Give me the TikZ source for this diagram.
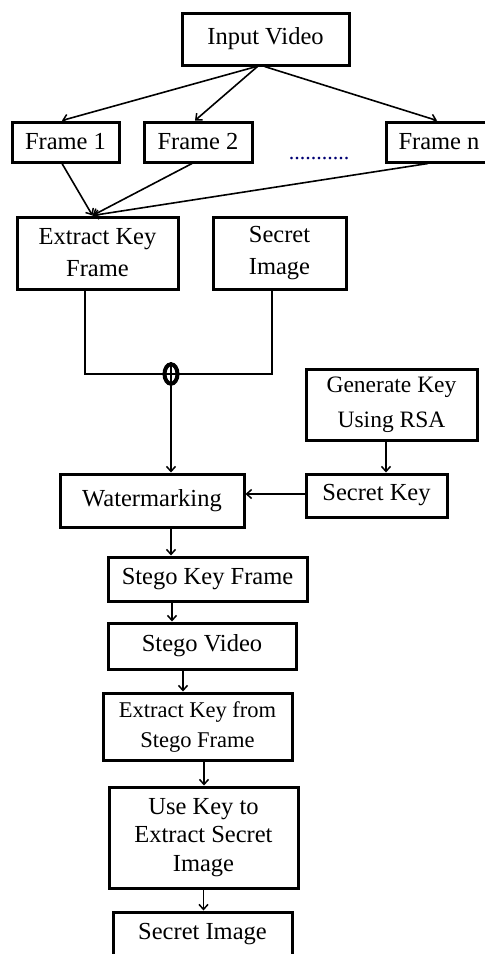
\documentclass[tikz,border=0pt]{standalone}
\usepackage{fontspec}
\setmainfont{Liberation Serif}
\usetikzlibrary{arrows.meta,shapes.geometric}
\tikzset{
  box/.style={draw, line width=3pt, inner sep=0pt, align=center,
    font=\fontsize{24.5}{32}\selectfont},
  link/.style={line width=1.6pt},
  arr/.style={link, -{Straight Barb[length=5pt,width=9pt,line width=1.5pt]}},
}
\begin{document}
\begin{tikzpicture}[x=1pt,y=-1pt]
\useasboundingbox (0,0) rectangle (485,954);
\clip (0,0) rectangle (485,954);

% video and its frames
\node[box, minimum width=167, minimum height=52] (inv) at (265.5,39) {Input Video};
\node[box, minimum width=107, minimum height=40] (f1) at (65.5,142) {Frame 1};
\node[box, minimum width=108, minimum height=40] (f2) at (198,142) {Frame 2};
\node[box, minimum width=106, minimum height=40] (fn) at (439,142) {Frame n};
\node[anchor=base, inner sep=0pt, text=blue!45!black, font=\fontsize{22}{29}\selectfont] (dots) at (319,159) {...........};

% key frame and secret image
\node[box, minimum width=161, minimum height=72] (ekf) at (97.5,253) {Extract Key\\Frame};
\node[box, minimum width=133, minimum height=72] (si) at (279.5,253) {Secret\\Image};

% combining operator
\node[draw, ellipse, line width=4pt, minimum width=13pt, minimum height=19.5pt, inner sep=0pt] (op) at (171,374) {};
\draw[line width=2.2pt] (op.north) -- (op.south) (op.west) -- (op.east);

% key generation
\node[box, minimum width=171, minimum height=71, font=\fontsize{23.5}{35}\selectfont] (gk) at (391.5,404.5) {Generate Key\\Using RSA};
\node[box, minimum width=141, minimum height=43] (sk) at (376.5,495.5) {Secret Key};

% embedding and extraction chain
\node[box, minimum width=184, minimum height=53] (wm) at (152,500.5) {Watermarking};
\node[box, minimum width=199, minimum height=44] (skf) at (207.5,579) {Stego Key Frame};
\node[box, minimum width=188, minimum height=46] (sv) at (202,646) {Stego Video};
\node[box, minimum width=189, minimum height=67, font=\fontsize{22.5}{30}\selectfont] (ekg) at (197.5,726.5) {Extract Key from\\Stego Frame};
\node[box, minimum width=189, minimum height=101, font=\fontsize{24.5}{28.5}\selectfont] (uk) at (203.5,837.5) {Use Key to\\Extract Secret\\Image};
\node[box, minimum width=179, minimum height=44] (sim) at (202.5,934) {Secret Image};

% input video to frames
\draw[arr] ([xshift=-9pt]inv.south) -- ([xshift=-3.5pt]f1.north);
\draw[arr] ([xshift=-8pt]inv.south) -- ([xshift=-3pt]f2.north);
\draw[arr] ([xshift=-1pt]inv.south) -- ([xshift=-2pt]fn.north);

% frames to key frame extraction
\draw[arr] ([xshift=-3.5pt]f1.south) -- ([xshift=-5pt]ekf.north);
\draw[arr] ([xshift=-6pt]f2.south) -- ([xshift=-5pt]ekf.north);
\draw[arr] ([xshift=-11pt]fn.south) -- ([xshift=-5pt]ekf.north);

% key frame and secret image into the operator
\draw[link] ([xshift=-12.5pt]ekf.south) |- (op.west);
\draw[link] ([xshift=-7.5pt]si.south) |- (op.east);
\draw[arr] (op.south) -- (op.south |- wm.north);

% secret key path
\draw[arr] ([xshift=-5.5pt]gk.south) -- ([xshift=-5.5pt]gk.south |- sk.north);
\draw[arr] ([yshift=1.5pt]sk.west) -- ([yshift=1.5pt]sk.west -| wm.east);

% chain downwards
\draw[arr] (op |- wm.south) -- (op |- skf.north);
\draw[arr] ([xshift=-35.5pt]skf.south) -- ([xshift=-35.5pt]skf.south |- sv.north);
\draw[arr] ([xshift=-19pt]sv.south) -- ([xshift=-19pt]sv.south |- ekg.north);
\draw[arr] ([xshift=6.5pt]ekg.south) -- ([xshift=6.5pt]ekg.south |- uk.north);
\draw[arr] (uk.south) -- (uk.south |- sim.north);
\end{tikzpicture}
\end{document}
